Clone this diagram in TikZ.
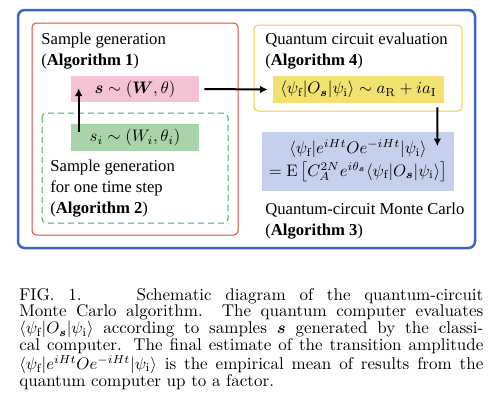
\documentclass[tikz,border=0pt]{standalone}
\usepackage{amsmath,amssymb,bm}
\usepackage{fontspec}
\newfontfamily\figfont{Liberation Serif}
\usepackage{tikz}
\usetikzlibrary{arrows.meta,calc}
\definecolor{qcblue}{RGB}{58,102,196}
\definecolor{genred}{RGB}{226,72,52}
\definecolor{stepgreen}{RGB}{64,172,96}
\definecolor{evalyel}{RGB}{234,202,72}
\definecolor{pinkfill}{RGB}{245,194,212}
\definecolor{greenfill}{RGB}{169,211,169}
\definecolor{yelfill}{RGB}{242,226,112}
\definecolor{bluefill}{RGB}{197,208,237}
\newcommand{\psif}{\psi_{\mathrm{f}}}
\newcommand{\psii}{\psi_{\mathrm{i}}}

\begin{document}
\begin{tikzpicture}[x=0.6pt,y=-0.6pt,
   frame/.style={rounded corners=2.5pt,line width=0.6pt},
   fbox/.style={inner sep=0pt,minimum width=76.8pt,minimum height=16.2pt},
   lbl/.style={anchor=base west,align=left,inner sep=0pt,font=\figfont\fontsize{10}{12.6}\selectfont},
   arr/.style={-{Latex[length=4.6pt,width=4.6pt]},line width=1.2pt}]
\useasboundingbox (0,0) rectangle (491,417);
% frames: whole algorithm, classical part, quantum part, one time step
\draw[frame,draw=qcblue,line width=1.5pt,rounded corners=4pt] (18,10) rectangle (475,248);
\draw[frame,draw=genred] (32,23) rectangle (238,235);
\draw[frame,draw=evalyel] (254,25) rectangle (462,111);
\draw[frame,draw=stepgreen,dash pattern=on 3.6pt off 2.4pt] (42,113) rectangle (228,223);
% titles (placed at the baseline of their last line)
\node[lbl] (tgen) at (41,65) {Sample generation\\(\textbf{Algorithm 1})};
\node[lbl] (teval) at (265,65) {Quantum circuit evaluation\\(\textbf{Algorithm 4})};
\node[lbl] (tstep) at (50,213) {Sample generation\\for one time step\\(\textbf{Algorithm 2})};
\node[lbl] (tqcmc) at (265,235) {Quantum-circuit Monte Carlo\\(\textbf{Algorithm 3})};
% formula boxes
\node[fbox,fill=pinkfill,minimum height=15.6pt] (samp) at (135,89) {$\bm{s}\sim(\bm{W},\theta)$};
\node[fbox,fill=greenfill] (ssamp) at (135,137.5) {$s_i\sim(W_i,\theta_i)$};
\node[fbox,fill=yelfill,minimum width=102.6pt] (eval) at (358.5,89.5)
   {$\langle\psif|O_{\bm s}|\psii\rangle\sim a_{\mathrm{R}}+ia_{\mathrm{I}}$};
\node[fbox,fill=bluefill,minimum width=115.2pt,minimum height=35.4pt,align=center] (mean) at (358,161)
   {$\langle\psif|e^{iHt}Oe^{-iHt}|\psii\rangle$\\[1.5pt]
    $=\mathrm{E}\left[C_A^{2N}e^{i\theta_{\bm s}}\langle\psif|O_{\bm s}|\psii\rangle\right]$};
% data flow
\draw[arr] ($(ssamp.north west)+(8,8)$) -- ($(samp.south west)+(8,-14)$);
\draw[arr] ($(samp.east)+(5,0)$) -- ($(eval.west)+(-5,0)$);
\draw[arr] ($(eval.south east)+(-7,4)$) -- ($(mean.north east)+(-17,15)$);
% caption
\node[anchor=base west,inner sep=0pt,text width=278.4pt,align=justify,
   font=\fontsize{10.2}{10.1}\selectfont] (cap) at (19,300)
   {\lineskiplimit=-5pt FIG.~1.\hspace{33pt}Schematic diagram of the quantum-circuit\linebreak
    Monte Carlo algorithm. The quantum computer evaluates\linebreak
    $\langle\psif|O_{\bm s}|\psii\rangle$ according to samples $\bm s$ generated by the classi-\linebreak
    cal computer. The final estimate of the transition amplitude\linebreak
    $\langle\psif|e^{iHt}Oe^{-iHt}|\psii\rangle$ is the empirical mean of results from the\linebreak
    quantum computer up to a factor.};
\end{tikzpicture}
\end{document}
